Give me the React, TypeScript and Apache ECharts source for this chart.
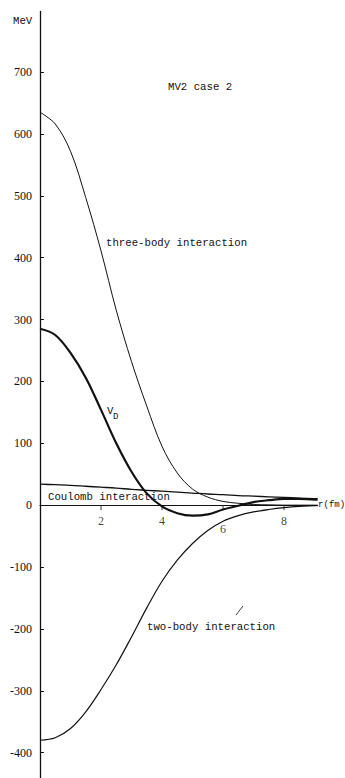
import React, { useEffect, useRef } from "react";
import * as echarts from "echarts";

// Radial distance r (fm) at which the potentials are sampled
const radius = [0, 0.5, 1, 1.5, 2, 2.5, 3, 3.5, 4, 4.5, 5, 5.5, 6, 6.5, 7, 7.5, 8, 8.5, 9, 9.1];

// Potential contributions in MeV
const threeBody = [635, 616, 572, 497, 411, 315, 232, 160, 95, 52, 26, 13, 6, 3, 1, 0.5, 0, 0, 0, 0];
const twoBody = [-380, -376, -361, -334, -298, -258, -213, -166, -123, -89, -62, -41, -26, -17, -11, -7, -4, -2, -1, -0.8];
const vD = [285, 275, 246, 206, 154, 100, 54, 19, -2, -13, -17, -15, -7, -1, 5, 8, 10, 10, 9, 9];
const coulomb = [34, 33, 32, 30.5, 29, 27.5, 25.5, 24, 22.5, 21, 19.5, 18, 17, 15.5, 14.5, 13.5, 12.5, 11.5, 10.5, 10.3];

// Axis tick values
const yTicks = [-400, -300, -200, -100, 0, 100, 200, 300, 400, 500, 600, 700];
const xTicks = [2, 4, 6, 8];

const INK = "#111111";
const MONO = "'Liberation Mono', 'DejaVu Sans Mono', monospace";
const SERIF = "'Liberation Serif', 'DejaVu Serif', serif";

const pairs = (ys: number[]) => radius.map((r, i) => [r, ys[i]]);

export default function App() {
  const ref = useRef<HTMLDivElement>(null);

  useEffect(() => {
    if (!ref.current) return;
    const chart = echarts.init(ref.current, null, { renderer: "svg" });

    const curve = (name: string, ys: number[], width: number) => ({
      name,
      type: "line",
      data: pairs(ys),
      smooth: 0.35,
      showSymbol: false,
      symbol: "none",
      lineStyle: { color: INK, width },
      z: 3,
    });

    const monoText = (text: string, x: number, y: number, size = 10.7) => ({
      type: "text",
      x,
      y,
      style: {
        text,
        fill: INK,
        font: `${size}px ${MONO}`,
        verticalAlign: "middle",
        align: "left",
      },
      z: 10,
    });

    chart.setOption({
      animation: false,
      backgroundColor: "#ffffff",
      grid: { left: 40, right: 27.4, top: 11.4, bottom: 0, containLabel: false, outerBoundsMode: "none" },
      xAxis: {
        type: "value",
        min: 0,
        max: 9.1,
        name: "r(fm)",
        nameLocation: "end",
        nameGap: 0.5,
        nameTextStyle: { color: INK, fontFamily: MONO, fontSize: 9, verticalAlign: "middle" },
        axisLine: { onZero: true, lineStyle: { color: INK, width: 1.2 } },
        axisTick: { show: false },
        axisLabel: { show: false },
        splitLine: { show: false },
      },
      yAxis: {
        type: "value",
        min: -441,
        max: 798,
        axisLine: { onZero: false, lineStyle: { color: INK, width: 1.3 } },
        axisTick: { show: true, inside: true, length: 4, customValues: yTicks, lineStyle: { color: INK, width: 1 } },
        axisLabel: {
          customValues: yTicks,
          margin: 8,
          color: INK,
          fontFamily: SERIF,
          fontSize: 12,
        },
        splitLine: { show: false },
      },
      series: [
        curve("three-body interaction", threeBody, 1),
        curve("two-body interaction", twoBody, 1.2),
        curve("Coulomb interaction", coulomb, 1.3),
        curve("V_D", vD, 2.2),
        {
          // r-axis ticks and their numbers, drawn on the zero line
          name: "r ticks",
          type: "scatter",
          symbol: "rect",
          symbolSize: [1, 5],
          symbolOffset: [0, 2.5],
          itemStyle: { color: INK },
          silent: true,
          z: 4,
          data: xTicks.map((t) => ({
            value: [t, 0],
            label: { distance: t === 6 ? 13 : 5 },
          })),
          label: {
            show: true,
            position: "bottom",
            color: INK,
            fontFamily: SERIF,
            fontSize: 12,
            formatter: (p: any) => String(p.value[0]),
          },
        },
      ],
      graphic: [
        monoText("MeV", 13, 21),
        monoText("MV2 case 2", 168, 87),
        monoText("three-body interaction", 106, 243),
        monoText("V", 107, 411),
        monoText("D", 113, 417, 9),
        monoText("Coulomb interaction", 48, 497),
        monoText("two-body interaction", 147, 627),
        {
          type: "line",
          shape: { x1: 236, y1: 615, x2: 243, y2: 606 },
          style: { stroke: INK, lineWidth: 0.8 },
          z: 10,
        },
      ],
    });

    return () => chart.dispose();
  }, []);

  return (
    <div
      ref={ref}
      style={{ position: "fixed", left: 0, top: 0, width: 345, height: 778, background: "#fff" }}
    />
  );
}
